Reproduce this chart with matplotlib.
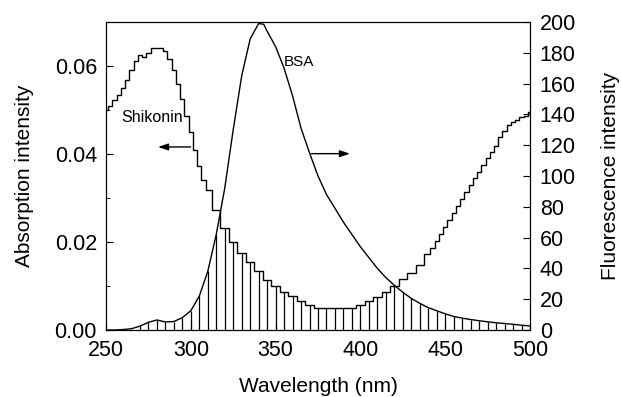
import matplotlib
matplotlib.use('Agg')
import matplotlib.pyplot as plt
from matplotlib.ticker import MultipleLocator, FormatStrFormatter
import numpy as np

plt.rcParams['font.family'] = ['Liberation Sans', 'DejaVu Sans']

# shikonin absorption (left axis), stepped trace
shik_wl = [250, 252.5, 255, 257.5, 260, 262.5, 265, 267.5, 270, 272.5, 275, 277.5, 280,
           282.5, 285, 287.5, 290, 292.5, 295, 297.5, 300, 302.5, 305, 307.5, 310,
           315, 320, 325, 330, 335, 340, 345, 350, 355, 360, 365, 370, 375, 380, 385,
           390, 395, 400, 405, 410, 415, 420, 425, 430, 435, 440,
           442.5, 445, 447.5, 450, 452.5, 455, 457.5, 460, 462.5, 465, 467.5, 470,
           472.5, 475, 477.5, 480, 482.5, 485, 487.5, 490, 492.5, 495, 497.5, 500]
shik_abs = [0.0500, 0.0510, 0.0522, 0.0533, 0.0550, 0.0568, 0.0590, 0.0612, 0.0625, 0.0620,
            0.0630, 0.0640, 0.0640, 0.0640, 0.0635, 0.0615, 0.0590, 0.0560, 0.0525, 0.0487,
            0.0450, 0.0410, 0.0372, 0.0340, 0.0318,
            0.0272, 0.0232, 0.0200, 0.0176, 0.0155, 0.0133, 0.0113, 0.0099, 0.0087, 0.0077,
            0.0066, 0.0056, 0.0049, 0.0049, 0.0049, 0.0049, 0.0049, 0.0056, 0.0066, 0.0076,
            0.0087, 0.0101, 0.0117, 0.0130, 0.0148, 0.0172,
            0.0187, 0.0202, 0.0218, 0.0235, 0.0250, 0.0265, 0.0282, 0.0298, 0.0314, 0.0330,
            0.0345, 0.0360, 0.0375, 0.0390, 0.0405, 0.0418, 0.0438, 0.0452, 0.0466, 0.0472,
            0.0478, 0.0485, 0.0487, 0.0496]

# BSA fluorescence (right axis)
bsa_wl = [250, 255, 260, 265, 270, 275, 280, 285, 290, 295, 300, 305, 310, 315, 320, 325,
          330, 335, 340, 343, 345, 350, 355, 360, 365, 370, 375, 380, 385, 390, 395, 400,
          405, 410, 415, 420, 425, 430, 435, 440, 445, 450, 455, 460, 465, 470, 475, 480,
          485, 490, 495, 500]
bsa_fl = [0, 0, 0.3, 0.8, 2.5, 5, 6.5, 5.2, 5.5, 8, 12.5, 22, 38, 62, 92, 130,
          165, 189, 199, 198.5, 194, 184, 170, 152, 131, 115, 100, 88, 79, 70, 62, 54,
          47, 40, 34, 29, 24.5, 20.5, 17.3, 14.5, 12.5, 10.5, 8.8, 7.7, 6.8, 6.0, 5.3, 4.7,
          4.2, 3.7, 3.1, 2.6]

hatch_x = np.arange(270, 501, 5)

fig = plt.figure(figsize=(6.21, 3.97), dpi=100)
ax = fig.add_axes([0.1707, 0.1688, 0.6828, 0.7758])
ax2 = ax.twinx()

ax.plot(shik_wl, shik_abs, color='black', lw=1.0, drawstyle='steps-mid')
ax2.plot(bsa_wl, bsa_fl, color='black', lw=1.0)

# overlap region drawn as vertical lines
scale = 200 / 0.07
shik_on_fl = np.interp(hatch_x, shik_wl, shik_abs) * scale
bsa_at = np.interp(hatch_x, bsa_wl, bsa_fl)
ax2.vlines(hatch_x, 0, np.minimum(shik_on_fl, bsa_at), color='black', lw=0.9)

ax.set_xlim(250, 500)
ax.set_ylim(0, 0.07)
ax2.set_ylim(0, 200)

ax.xaxis.set_major_locator(MultipleLocator(50))
ax.xaxis.set_minor_locator(MultipleLocator(25))
ax.yaxis.set_major_locator(MultipleLocator(0.02))
ax.yaxis.set_minor_locator(MultipleLocator(0.01))
ax.yaxis.set_major_formatter(FormatStrFormatter('%.2f'))
ax2.yaxis.set_major_locator(MultipleLocator(20))

ax.tick_params(which='both', direction='in', labelsize=15.5)
ax.tick_params(which='major', length=5)
ax.tick_params(which='minor', length=3)
ax.tick_params(axis='x', pad=7)
ax.tick_params(axis='y', pad=6.5)
ax2.tick_params(direction='in', length=5, labelsize=15.5, pad=7)

ax.set_xlabel('Wavelength (nm)', fontsize=15, labelpad=12)
ax.set_ylabel('Absorption intensity', fontsize=15, labelpad=15)
ax2.set_ylabel('Fluorescence intensity', fontsize=15, labelpad=18)

ax.text(277, 0.0483, 'Shikonin', fontsize=11.5, ha='center', va='center')
ax2.text(364, 174, 'BSA', fontsize=11, ha='center', va='center')

ax.annotate('', xy=(279, 0.0416), xytext=(301.5, 0.0416),
            arrowprops=dict(arrowstyle='-|>,head_length=0.6,head_width=0.2', color='black', lw=1))
ax2.annotate('', xy=(395.5, 114.5), xytext=(369.5, 114.5),
             arrowprops=dict(arrowstyle='-|>,head_length=0.6,head_width=0.2', color='black', lw=1))

fig.savefig('out.png', dpi=100)
